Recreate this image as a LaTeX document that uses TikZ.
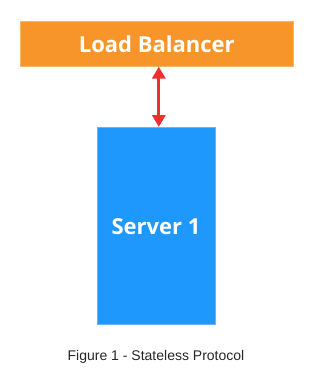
\documentclass[tikz,border=0pt]{standalone}
\usepackage{fontspec}
\setmainfont{Liberation Sans}
\newfontfamily\boxfont{Open Sans}
\usetikzlibrary{arrows.meta}
\definecolor{lborange}{HTML}{F8952A}
\definecolor{srvblue}{HTML}{1E98FC}
\definecolor{arrred}{HTML}{F0302E}
\begin{document}
\begin{tikzpicture}[x=1pt,y=-1pt,
  boxlabel/.style={font=\boxfont\bfseries\fontsize{22}{25}\selectfont, text=white},
  link/.style={draw=arrred, line width=3pt, {Triangle[length=12pt,width=13pt]}-{Triangle[length=12pt,width=13pt]}}]
\useasboundingbox (0,0) rectangle (313,372);
\node[fill=lborange, draw=lborange!70!white, line width=0.6pt, minimum width=273pt, minimum height=45pt, inner sep=0pt, anchor=north west] (lb) at (20,21) {};
\node[boxlabel] (lbt) at (lb.center) {Load Balancer};
\node[fill=srvblue, draw=srvblue!70!white, line width=0.6pt, minimum width=118pt, minimum height=197pt, inner sep=0pt, anchor=north west] (srv) at (97,127) {};
\node[boxlabel] (srvt) at (156,227) {Server 1};
\draw[link] ([xshift=2pt]lb.south) -- ([xshift=2pt,yshift=0pt]lb.south |- srv.north);
\node[font=\fontsize{14}{16}\selectfont, text=black!85] (cap) at (156,357) {Figure 1 - Stateless Protocol};
\end{tikzpicture}
\end{document}
